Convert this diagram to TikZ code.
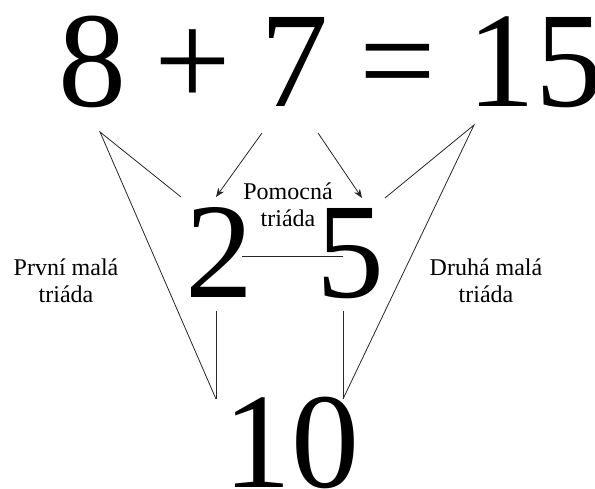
\documentclass[tikz,border=0pt]{standalone}
\usepackage{fontspec}
\setmainfont{Liberation Serif}
\usetikzlibrary{arrows.meta}
\begin{document}
\begin{tikzpicture}[x=1pt,y=1pt,
  big/.style={font=\fontsize{136}{136}\selectfont, inner sep=0pt, anchor=base},
  lbl/.style={font=\fontsize{24}{27.5}\selectfont, align=center, inner sep=0pt, anchor=center},
  ln/.style={line width=0.8pt, draw=black!85},
  arr/.style={ln, -{Stealth[length=9pt,width=7pt]}}]
\useasboundingbox (0,0) rectangle (595,489);
\clip (0,0) rectangle (595,489);
% top equation
\node[big] (eight) at (92.5,382) {8};
\node[big] (plus) at (192.5,382) {+};
\node[big] (seven) at (294.5,382) {7};
\node[big] (eq) at (397.5,382) {=};
\node[big] (fifteen) at (535.5,382) {15};
% middle and bottom
\node[big] (two) at (219,191) {2};
\node[big] (five) at (350,191) {5};
\node[big] (ten) at (291,1.5) {10};
% labels
\node[lbl] (prvni) at (66,208) {První malá\\triáda};
\node[lbl] (druha) at (486,208) {Druhá malá\\triáda};
\node[lbl] (pomocna) at (288,284) {Pomocná\\triáda};
% connector points
\coordinate (La) at (100,357);
\coordinate (Ls) at (181,292);
\coordinate (Lb) at (216,90);
\coordinate (Lv) at (216,178);
\coordinate (Ra) at (474,364);
\coordinate (Rs) at (385,291);
\coordinate (Rb) at (343,90);
\coordinate (Rv) at (343,178);
\coordinate (A1s) at (262,356);
\coordinate (A1e) at (216,292);
\coordinate (A2s) at (318,356);
\coordinate (A2e) at (362,291);
\coordinate (Hl) at (242,233);
\coordinate (Hr) at (343,233);
% connectors
\draw[ln] (Ls) -- (La) -- (Lb);
\draw[ln] (Lv) -- (Lb);
\draw[ln] (Rs) -- (Ra) -- (Rb);
\draw[ln] (Rv) -- (Rb);
\draw[arr] (A1s) -- (A1e);
\draw[arr] (A2s) -- (A2e);
\draw[ln] (Hl) -- (Hr);
\end{tikzpicture}
\end{document}
